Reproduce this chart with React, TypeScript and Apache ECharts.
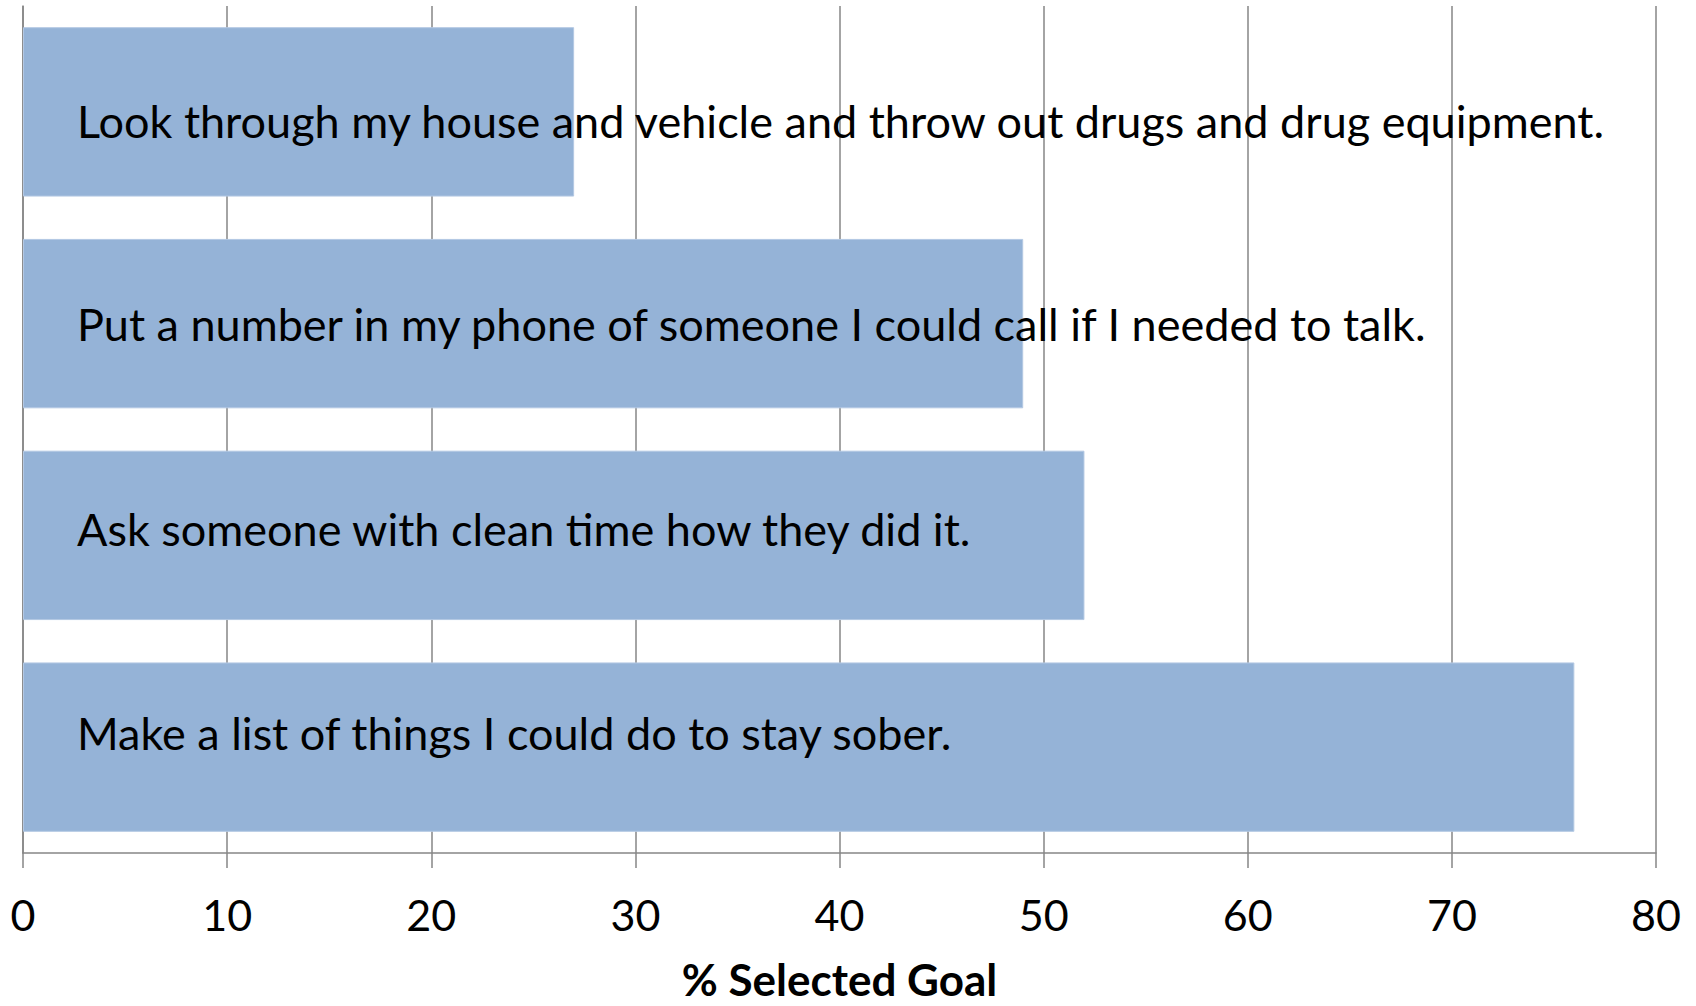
import React, { useEffect, useRef } from "react";
import * as echarts from "echarts";

const categories: string[] = [
  "Look through my house and vehicle and throw out drugs and drug equipment.",
  "Put a number in my phone of someone I could call if I needed to talk.",
  "Ask someone with clean time how they did it.",
  "Make a list of things I could do to stay sober.",
];
const values: number[] = [27, 49, 52, 76];
const xTicks: number[] = [0, 10, 20, 30, 40, 50, 60, 70, 80];
const axisTitle = "% Selected Goal";

// vertical nudges of the text labels relative to bar centers (px)
const labelNudges: number[] = [9.2, 0.5, -6.3, -14.6];

const FONT = "Lato";

export default function App() {
  const ref = useRef<HTMLDivElement>(null);
  useEffect(() => {
    if (!ref.current) return;
    const chart = echarts.init(ref.current, null, { renderer: "svg" });
    chart.setOption({
      animation: false,
      backgroundColor: "#ffffff",
      grid: { left: 23, right: 40, top: 6, bottom: 146, containLabel: false },
      xAxis: {
        type: "value",
        min: xTicks[0],
        max: xTicks[xTicks.length - 1],
        interval: 10,
        name: axisTitle,
        nameLocation: "middle",
        nameGap: 104,
        nameTextStyle: { fontFamily: FONT, fontWeight: "bold", fontSize: 44, color: "#000" },
        axisLine: { show: true, lineStyle: { color: "#868686", width: 1.5 } },
        axisTick: { show: true, length: 15, lineStyle: { color: "#868686", width: 1.5 } },
        axisLabel: { fontFamily: FONT, fontSize: 43, color: "#000", margin: 40 },
        splitLine: { show: true, lineStyle: { color: "#868686", width: 1.5 } },
      },
      yAxis: {
        type: "category",
        data: categories,
        inverse: true,
        axisLine: { show: true, lineStyle: { color: "#868686", width: 1.5 } },
        axisTick: { show: false },
        axisLabel: { show: false },
        splitLine: { show: false },
      },
      series: [
        {
          type: "bar",
          barCategoryGap: "20%",
          itemStyle: { color: "#95B3D7", borderColor: "#B3C8E3", borderWidth: 1 },
          label: {
            show: true,
            position: "insideLeft",
            distance: 54,
            formatter: "{b}",
            fontFamily: FONT,
            fontSize: 45,
            color: "#000",
          },
          data: values.map((v, i) => ({ value: v, label: { offset: [0, labelNudges[i]] } })),
        },
      ],
    });
    return () => chart.dispose();
  }, []);
  return (
    <div
      ref={ref}
      style={{ position: "absolute", left: 0, top: 0, width: 1696, height: 1006 }}
    />
  );
}
